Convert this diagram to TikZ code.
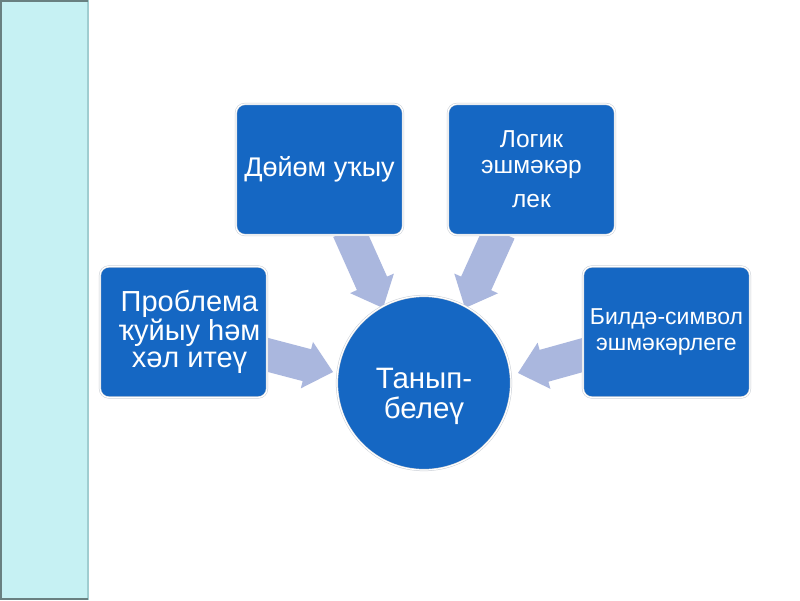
\documentclass[tikz,border=0pt]{standalone}
\usepackage{fontspec}
\setmainfont{Liberation Sans}
\usetikzlibrary{calc,backgrounds}
\definecolor{boxblue}{RGB}{21,103,195}
\definecolor{ringgray}{RGB}{200,205,212}
\definecolor{arrowfill}{RGB}{170,183,222}
\definecolor{stripfill}{RGB}{198,241,243}
\definecolor{stripedge}{RGB}{160,205,208}
\definecolor{stripdark}{RGB}{105,128,128}
\tikzset{
  box/.style={rectangle, rounded corners=9pt, fill=boxblue, draw=ringgray,
    double=white, double distance=1.2pt, line width=0.5pt,
    minimum width=167pt, minimum height=131pt, inner sep=2pt,
    align=center, text=white},
  hub/.style={circle, fill=boxblue, draw=ringgray, double=white,
    double distance=1.2pt, line width=0.5pt, minimum size=174pt,
    inner sep=0pt},
  hubtext/.style={align=center, text=white, inner sep=0pt},
  blk/.style={fill=arrowfill}
}
\newcommand{\blkarrow}[2]{%
  \coordinate (bkS) at (#1);
  \coordinate (bkT) at (#2);
  \coordinate (bkH) at ($(bkT)!27pt!(bkS)$);
  \fill[blk] ($(bkS)!16.5pt!90:(bkT)$) -- ($(bkH)!16.5pt!-90:(bkS)$)
    -- ($(bkH)!24pt!-90:(bkS)$) -- (bkT) -- ($(bkH)!24pt!90:(bkS)$)
    -- ($(bkH)!16.5pt!90:(bkS)$) -- ($(bkS)!16.5pt!-90:(bkT)$) -- cycle;%
}
\newcommand{\rsh}{\hspace*{12pt}}
\begin{document}
\begin{tikzpicture}[x=1pt,y=-1pt]
\useasboundingbox (0,0) rectangle (800,600);

% boxes
\node[box, font=\fontsize{27}{27}\selectfont] (b1) at (319.5,169.5) {Дөйөм уҡыу};
\node[box, font=\fontsize{24.5}{25}\selectfont] (b2) at (531.5,169.5) {Логик\\[1pt]эшмәкәр\\[9pt]лек};
\node[box, font=\fontsize{29}{27.5}\selectfont] (b3) at (183.5,332) {\rsh Проблема\\\rsh ҡуйыу һәм\\\rsh хәл итеү};
\node[box, font=\fontsize{23}{26}\selectfont] (b4) at (666.5,332) {Билдә-символ\\эшмәкәрлеге};
\node[hub] (circ) at (424,383) {};
\node[hubtext, font=\fontsize{29.5}{30}\selectfont] (circtxt) at ($(circ.center)+(0,13)$) {Танып-\\белеү};

\begin{scope}[on background layer]
\fill[white] (0,0) rectangle (800,600);
% left strip
\fill[stripfill] (0,0) rectangle (88,600);
\draw[stripedge, line width=1.2pt] (88,0) -- (88,600);
\draw[stripdark, line width=1.6pt] (88,0.8) -- (0.8,0.8) -- (0.8,599.2) -- (88,599.2);
\blkarrow{$(b1.south)+(28.8,-5)$}{$(circ.center)+(-41,-75)$}
\blkarrow{$(b2.south)+(-32,-3.5)$}{$(circ.center)+(41,-75)$}
\blkarrow{$(b3.east)+(-4.8,21.5)$}{$(circ.center)+(-91,-11)$}
\blkarrow{$(b4.west)+(5.8,21.4)$}{$(circ.center)+(94,-10)$}
\end{scope}
\end{tikzpicture}
\end{document}
